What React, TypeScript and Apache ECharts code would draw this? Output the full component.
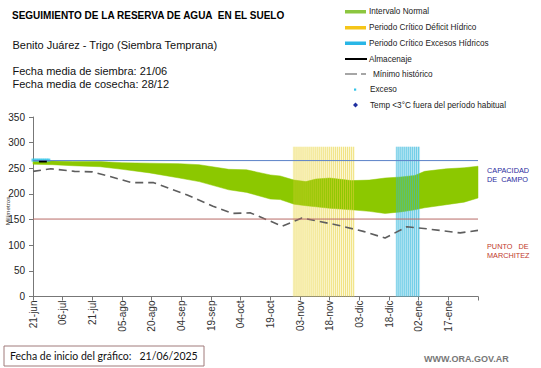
import React, { useEffect, useRef } from "react";
import * as echarts from "echarts";

// ---- Data ----
const tickLabels = [
  "21-jun", "06-jul", "21-jul", "05-ago", "20-ago", "04-sep", "19-sep", "04-oct",
  "19-oct", "03-nov", "18-nov", "03-dic", "18-dic", "02-ene", "17-ene",
];
const tickStepDays = 15;
const totalDays = 225;

// Intervalo normal (band) — day offset from 21-jun
const bandDays = [0, 10, 20, 34, 45, 59, 74, 84, 99, 108, 120, 125, 132, 138, 143, 150, 161, 170, 178, 186, 193, 198, 209, 218, 225];
const bandUpper = [265, 264, 263, 263, 261, 260, 259, 257, 248, 247, 237, 235, 227, 224, 229, 231, 226, 227, 231, 233, 236, 244, 249, 251, 254];
const bandLower = [258, 257, 255, 253, 248, 241, 231, 224, 208, 203, 190, 189, 180, 177, 175, 172, 169, 166, 162, 165, 169, 173, 179, 184, 192];

// Mínimo histórico
const minDays = [0, 9, 21, 30, 39, 50, 61, 78, 91, 101, 110, 115, 126, 136, 153, 167, 178, 189, 199, 216, 225];
const minValues = [244, 249, 244, 243, 234, 222, 222, 198, 176, 162, 163, 155, 137, 153, 140, 127, 114, 136, 132, 124, 129];

// Almacenaje
const almacenajeDays = [3, 5, 7];
const almacenajeValues = [263, 263, 263];

// Exceso points
const excesoDays = [0, 1, 2, 3, 4, 5, 6, 7, 8];
const excesoValues = [266, 266, 266, 266, 266, 266, 266, 266, 266];

const capacidadCampo = 265;
const puntoMarchitez = 151;

// Critical periods
const deficitPeriod = [132, 162];
const excesoPeriod = [184, 195];
const periodTop = 292;

const legendItems = [
  "Intervalo Normal",
  "Periodo Crítico Déficit Hídrico",
  "Periodo Crítico Excesos Hídricos",
  "Almacenaje",
  "Mínimo histórico",
  "Exceso",
  "Temp <3°C fuera del período habitual",
];

const FONT = "'Liberation Sans', Arial, sans-serif";

function periodBars(p: number[]) {
  const out: number[][] = [];
  for (let d = p[0]; d <= p[1]; d++) out.push([d, periodTop]);
  return out;
}

function refLine(value: number, color: string) {
  return {
    type: "line",
    data: [[0, value], [totalDays, value]],
    symbol: "none",
    z: 4,
    silent: true,
    color,
    lineStyle: { color, width: 1, type: "solid" },
  };
}

export default function App() {
  const ref = useRef<HTMLDivElement>(null);
  useEffect(() => {
    if (!ref.current) return;
    const chart = echarts.init(ref.current, undefined, { renderer: "svg" });

    const legendY = [11.5, 27.5, 43, 59, 74, 89.5, 105];
    const legendGraphics: any[] = [
      { type: "rect", shape: { x: 345, y: legendY[0] - 1.5, width: 21, height: 3.5 }, style: { fill: "#8cc63f" } },
      { type: "rect", shape: { x: 345, y: legendY[1] - 1.5, width: 21, height: 3.5 }, style: { fill: "#f5c518" } },
      { type: "rect", shape: { x: 345, y: legendY[2] - 1.5, width: 21, height: 3.5 }, style: { fill: "#29b6e6" } },
      { type: "line", shape: { x1: 345, y1: legendY[3], x2: 367, y2: legendY[3] }, style: { stroke: "#000", lineWidth: 2 } },
      { type: "line", shape: { x1: 345, y1: legendY[4], x2: 357, y2: legendY[4] }, style: { stroke: "#888", lineWidth: 1.5 } },
      { type: "line", shape: { x1: 361, y1: legendY[4], x2: 366, y2: legendY[4] }, style: { stroke: "#888", lineWidth: 1.5 } },
      { type: "rect", shape: { x: 354, y: legendY[5] - 1, width: 2.2, height: 2.2 }, style: { fill: "#33c4e8" } },
      { type: "polygon", shape: { points: [[355.5, legendY[6] - 2.5], [358, legendY[6]], [355.5, legendY[6] + 2.5], [353, legendY[6]]] }, style: { fill: "#1f2fa0" } },
    ];
    legendItems.forEach((t, i) => {
      legendGraphics.push({
        type: "text",
        x: i === 4 ? 373 : i >= 5 ? 370 : 369,
        y: legendY[i],
        style: { text: t, font: `8.2px ${FONT}`, fill: "#222", textVerticalAlign: "middle" },
      });
    });

    chart.setOption({
      animation: false,
      backgroundColor: "#fff",
      grid: { left: 33, right: 63, top: 117, bottom: 71.5 },
      xAxis: {
        type: "value",
        min: 0,
        max: totalDays,
        interval: tickStepDays,
        axisLine: { show: true, onZero: false, lineStyle: { color: "#777", width: 1 } },
        axisTick: { show: true, length: 4, lineStyle: { color: "#777" } },
        splitLine: { show: false },
        axisLabel: {
          rotate: 90,
          margin: 4,
          fontSize: 10,
          color: "#333",
          fontFamily: FONT,
          formatter: (v: number) => tickLabels[Math.round(v / tickStepDays)] || "",
        },
      },
      yAxis: {
        type: "value",
        min: 0,
        max: 350,
        interval: 50,
        axisLine: { show: true, lineStyle: { color: "#777", width: 1 } },
        axisTick: { show: true, length: 4, lineStyle: { color: "#777" } },
        splitLine: { show: false },
        axisLabel: { fontSize: 10, color: "#222", margin: 8, fontFamily: FONT },
      },
      series: [
        {
          type: "custom",
          silent: true,
          data: bandDays.map((d, i) => [d, bandLower[i], bandUpper[i]]),
          encode: { x: 0, y: [1, 2] },
          renderItem: (params: any, api: any) => {
            if (params.dataIndex !== 0) return null;
            const top = bandDays.map((d, i) => api.coord([d, bandUpper[i]]));
            const bot = bandDays.map((d, i) => api.coord([d, bandLower[i]])).reverse();
            return {
              type: "polygon",
              shape: { points: top.concat(bot) },
              style: { fill: "#8cc800", stroke: "#8cc800", lineWidth: 0.5 },
            };
          },
        },
        {
          type: "bar",
          data: periodBars(deficitPeriod),
          barWidth: 1,
          itemStyle: { color: "rgba(232,208,60,0.55)" },
          markArea: {
            silent: true,
            itemStyle: { color: "rgba(246,234,130,0.3)" },
            data: [[{ xAxis: deficitPeriod[0] - 0.7, yAxis: 0 }, { xAxis: deficitPeriod[1] + 0.7, yAxis: periodTop }]],
          },
        },
        {
          type: "bar",
          data: periodBars(excesoPeriod),
          barWidth: 1,
          barGap: "-100%",
          itemStyle: { color: "rgba(50,185,220,0.75)" },
          markArea: {
            silent: true,
            itemStyle: { color: "rgba(150,215,235,0.42)" },
            data: [[{ xAxis: excesoPeriod[0] - 0.7, yAxis: 0 }, { xAxis: excesoPeriod[1] + 0.7, yAxis: periodTop }]],
          },
        },
        {
          type: "line",
          data: minDays.map((d, i) => [d, minValues[i]]),
          symbol: "none",
          lineStyle: { color: "#5e5e5e", width: 1.6, type: [8, 5] },
        },
        refLine(capacidadCampo, "#5b82c8"),
        refLine(puntoMarchitez, "#b86a66"),
        {
          type: "scatter",
          data: excesoDays.map((d, i) => [d, excesoValues[i]]),
          symbol: "rect",
          symbolSize: [3, 3],
          itemStyle: { color: "#33c4e8" },
        },
        {
          type: "line",
          data: almacenajeDays.map((d, i) => [d, almacenajeValues[i]]),
          symbol: "none",
          z: 5,
          lineStyle: { color: "#000", width: 1.8 },
        },
      ],
      graphic: [
        { type: "text", x: 12, y: 15, style: { text: "SEGUIMIENTO DE LA RESERVA DE AGUA  EN EL SUELO", font: `bold 10px ${FONT}`, fill: "#000", textVerticalAlign: "middle" } },
        { type: "text", x: 12.5, y: 45, style: { text: "Benito Juárez - Trigo (Siembra Temprana)", font: `11px ${FONT}`, fill: "#111", textVerticalAlign: "middle" } },
        { type: "text", x: 12.5, y: 71, style: { text: "Fecha media de siembra: 21/06", font: `11px ${FONT}`, fill: "#111", textVerticalAlign: "middle" } },
        { type: "text", x: 12.5, y: 84, style: { text: "Fecha media de cosecha: 28/12", font: `11px ${FONT}`, fill: "#111", textVerticalAlign: "middle" } },
        ...legendGraphics,
        { type: "text", x: 487, y: 170.5, style: { text: "CAPACIDAD", font: `7.3px ${FONT}`, fill: "#2b2b9e", textVerticalAlign: "middle" } },
        { type: "text", x: 487, y: 179.5, style: { text: "DE  CAMPO", font: `7.3px ${FONT}`, fill: "#2b2b9e", textVerticalAlign: "middle" } },
        { type: "text", x: 487, y: 246.5, style: { text: "PUNTO   DE", font: `7.3px ${FONT}`, fill: "#c0392b", textVerticalAlign: "middle" } },
        { type: "text", x: 487, y: 255.5, style: { text: "MARCHITEZ", font: `7.3px ${FONT}`, fill: "#c0392b", textVerticalAlign: "middle" } },
        { type: "text", x: 7.5, y: 211, rotation: Math.PI / 2, style: { text: "Milímetros", font: `6.2px ${FONT}`, fill: "#333", textAlign: "center", textVerticalAlign: "middle" } },
        { type: "rect", shape: { x: 4, y: 346, width: 200, height: 20 }, style: { fill: "#fff", stroke: "#a07a7a", lineWidth: 1 } },
        { type: "text", x: 10, y: 356, style: { text: "Fecha de inicio del gráfico:   21/06/2025", font: `10.5px Lato, ${FONT}`, fill: "#111", textVerticalAlign: "middle" } },
        { type: "text", x: 424, y: 359, style: { text: "WWW.ORA.GOV.AR", font: `bold 9px ${FONT}`, fill: "#777", textVerticalAlign: "middle" } },
      ],
    });
    return () => chart.dispose();
  }, []);

  return (
    <div
      ref={ref}
      style={{ position: "fixed", left: 0, top: 0, width: 541, height: 368, background: "#fff" }}
    />
  );
}
